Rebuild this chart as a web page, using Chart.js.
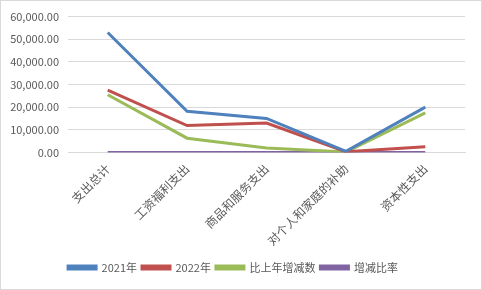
<!DOCTYPE html>
<html>
<head>
<meta charset="utf-8">
<script src="https://cdn.jsdelivr.net/npm/chart.js@4"></script>
<style>
  body { margin: 0; background: #fff; }
  #wrap { width: 482px; height: 290px; box-sizing: border-box; border: 1px solid #d9d9d9; }
</style>
</head>
<body>
<div id="wrap"><canvas id="chart"></canvas></div>
<script>
const categories = ["支出总计", "工资福利支出", "商品和服务支出", "对个人和家庭的补助", "资本性支出"];
const seriesNames = ["2021年", "2022年", "比上年增减数", "增减比率"];
const values2021 = [53000, 18200, 15000, 500, 20000];
const values2022 = [27500, 11900, 13000, 300, 2500];
const diffValues = [25500, 6300, 2000, 200, 17500];
const ratioValues = [0.48, 0.35, 0.13, 0.4, 0.88];
const yTicks = [0, 10000, 20000, 30000, 40000, 50000, 60000];

const COLORS = ["#4F81BD", "#C0504D", "#9BBB59", "#8064A2"];
const FONT = "'Noto Sans CJK SC', 'Noto Sans', sans-serif";

const seriesData = [values2021, values2022, diffValues, ratioValues];

new Chart(document.getElementById("chart"), {
  type: "line",
  data: {
    labels: categories,
    datasets: seriesData.map((d, i) => ({
      label: seriesNames[i],
      data: d,
      borderColor: COLORS[i],
      backgroundColor: COLORS[i],
      borderWidth: 3,
      pointRadius: 0,
      tension: 0,
    })),
  },
  options: {
    responsive: true,
    maintainAspectRatio: false,
    animation: false,
    layout: { padding: { top: 8, right: 16, left: 0, bottom: 6 } },
    scales: {
      y: {
        min: 0,
        max: 60000,
        afterBuildTicks: (s) => { s.ticks = yTicks.map((v) => ({ value: v })); },
        afterFit: (s) => { s.width = 67; },
        grid: { color: "#d9d9d9", drawTicks: false },
        border: { display: false },
        ticks: {
          color: "#595959",
          padding: 9,
          font: { family: FONT, size: 11 },
          callback: (v) => v.toLocaleString("en-US", { minimumFractionDigits: 2, maximumFractionDigits: 2 }),
        },
      },
      x: {
        offset: true,
        grid: { display: false, drawTicks: false },
        border: { color: "#d9d9d9" },
        ticks: {
          color: "#595959",
          autoSkip: false,
          maxRotation: 45,
          minRotation: 45,
          padding: 9,
          font: { family: FONT, size: 12 },
        },
      },
    },
    plugins: {
      legend: {
        position: "bottom",
        labels: {
          boxWidth: 28,
          boxHeight: 3,
          padding: 5,
          color: "#595959",
          font: { family: FONT, size: 11 },
        },
      },
      tooltip: { enabled: false },
    },
  },
});
</script>
</body>
</html>
